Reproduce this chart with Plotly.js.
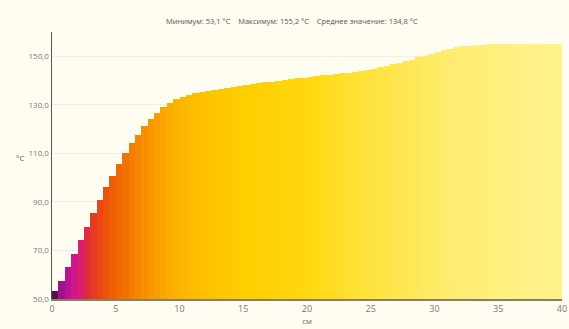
<!DOCTYPE html>
<html>
<head>
<meta charset="utf-8">
<script src="https://cdn.plot.ly/plotly-3.0.1.min.js"></script>
<style>html,body{margin:0;padding:0;background:#fffdf1;}#chart{width:569px;height:329px;}</style>
</head>
<body>
<div id="chart"></div>
<script>
// Position along the sample (cm), start of each 0.5 cm segment
const positionsCm = [0,0.5,1,1.5,2,2.5,3,3.5,4,4.5,5,5.5,6,6.5,7,7.5,8,8.5,9,9.5,
  10,10.5,11,11.5,12,12.5,13,13.5,14,14.5,15,15.5,16,16.5,17,17.5,18,18.5,19,19.5,
  20,20.5,21,21.5,22,22.5,23,23.5,24,24.5,25,25.5,26,26.5,27,27.5,28,28.5,29,29.5,
  30,30.5,31,31.5,32,32.5,33,33.5,34,34.5,35,35.5,36,36.5,37,37.5,38,38.5,39,39.5];
// Temperature (°C)
const temperatures = [53.1,57.5,63.0,68.5,74.3,79.8,85.3,90.8,96.2,100.7,
  105.8,110.0,114.4,117.7,121.3,124.3,126.6,129.0,130.8,132.2,
  133.3,134.2,134.8,135.3,135.7,136.0,136.4,136.8,137.2,137.6,
  138.0,138.4,138.8,139.2,139.6,140.0,140.3,140.6,140.9,141.2,
  141.5,141.8,142.1,142.4,142.7,143.0,143.3,143.6,144.0,144.4,
  144.8,145.5,146.2,146.8,147.4,148.0,148.6,149.5,150.3,151.0,
  151.8,152.5,153.2,153.7,154.1,154.4,154.6,154.8,154.9,155.0,
  155.1,155.1,155.2,155.2,155.2,155.2,155.2,155.2,155.1,155.1];
const xTicks = [0,5,10,15,20,25,30,35,40];
const yTicks = [50,70,90,110,130,150];
const headerText = "Минимум: 53,1 °C    Максимум: 155,2 °C    Среднее значение: 134,8 °C";
const xTitle = "см";
const yTitle = "°C";
const axisFloor = 50;

const thermalScale = [
  [0,'#5a0a5a'],[0.0125,'#a0108a'],[0.027,'#c4109a'],[0.047,'#d81e78'],
  [0.0625,'#e02a40'],[0.08,'#e84018'],[0.12,'#f06400'],[0.17,'#f78c00'],
  [0.23,'#fbb000'],[0.29,'#fdc200'],[0.385,'#ffcf00'],[0.5,'#ffd810'],
  [0.58,'#ffe030'],[0.675,'#ffe650'],[0.775,'#ffec70'],[0.875,'#fff080'],[1,'#fff28c']
];

const trace = {
  type: 'bar',
  x: positionsCm,
  y: temperatures.map(v => v - axisFloor),
  base: axisFloor,
  offset: 0,
  width: 0.5,
  marker: {color: positionsCm, colorscale: thermalScale, cmin: 0, cmax: 40, line: {width: 0}},
  hoverinfo: 'x+y'
};

const font = {family: 'Open Sans, sans-serif', size: 8, color: '#666'};
const layout = {
  width: 569, height: 329,
  margin: {l: 52, r: 7, t: 32, b: 30},
  paper_bgcolor: '#fffdf1',
  plot_bgcolor: '#fffdf1',
  separators: ', ',
  bargap: 0,
  showlegend: false,
  font: font,
  xaxis: {
    range: [0, 40], tickvals: xTicks, ticktext: xTicks.map(String),
    showgrid: false, zeroline: false, showline: true, linecolor: '#8a8060', linewidth: 2,
    ticks: '', ticklabeloverflow: 'allow',
    tickfont: {family: 'Open Sans, sans-serif', size: 9, color: '#777'},
    title: {text: xTitle, font: {family: 'Open Sans, sans-serif', size: 8, color: '#666'}, standoff: 2}
  },
  yaxis: {
    range: [50, 160], tickvals: yTicks, tickformat: '.1f',
    showgrid: true, gridcolor: '#f1eedc', zeroline: false,
    showline: true, linecolor: '#555', linewidth: 1.5, ticks: '',
    tickfont: {family: 'Open Sans, sans-serif', size: 8, color: '#777'}
  },
  annotations: [
    {text: headerText, xref: 'paper', yref: 'paper', x: 0.47, y: 1, yshift: 18,
     showarrow: false, font: {family: 'Open Sans, sans-serif', size: 7.5, color: '#555'}},
    {text: yTitle, xref: 'paper', yref: 'paper', x: 0, xshift: -38, y: 0.53,
     showarrow: false, font: {family: 'Open Sans, sans-serif', size: 8, color: '#555'}}
  ]
};
Plotly.newPlot('chart', [trace], layout, {displayModeBar: false, staticPlot: true});
</script>
</body>
</html>
